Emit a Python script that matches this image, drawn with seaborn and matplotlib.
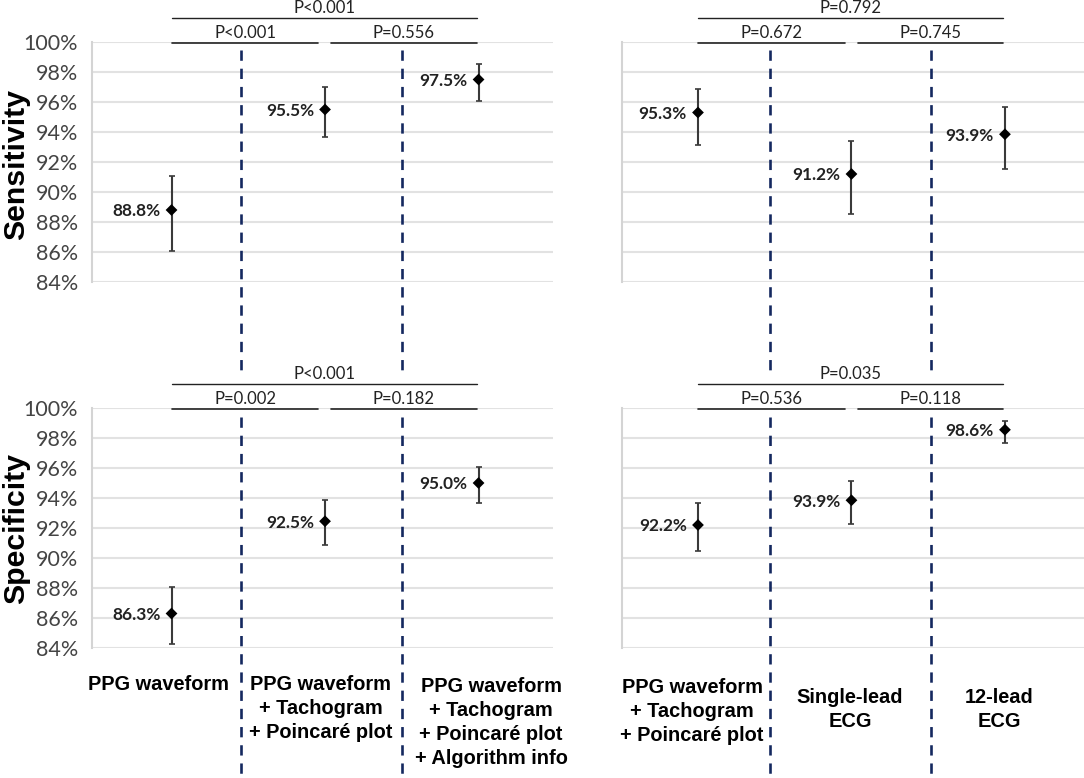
import matplotlib
matplotlib.use("Agg")
import matplotlib.pyplot as plt
from matplotlib.lines import Line2D
import numpy as np
import pandas as pd
import seaborn as sns

# ---- data ----
sens_left = [88.8, 95.5, 97.5]
sens_left_lo = [86.1, 93.65, 96.05]
sens_left_hi = [91.05, 97.0, 98.55]
sens_left_labels = ["88.8%", "95.5%", "97.5%"]

sens_right = [95.3, 91.2, 93.85]
sens_right_lo = [93.15, 88.55, 91.55]
sens_right_hi = [96.85, 93.4, 95.65]
sens_right_labels = ["95.3%", "91.2%", "93.9%"]

spec_left = [86.3, 92.45, 95.0]
spec_left_lo = [84.3, 90.85, 93.7]
spec_left_hi = [88.1, 93.85, 96.1]
spec_left_labels = ["86.3%", "92.5%", "95.0%"]

spec_right = [92.2, 93.85, 98.55]
spec_right_lo = [90.45, 92.25, 97.7]
spec_right_hi = [93.65, 95.15, 99.15]
spec_right_labels = ["92.2%", "93.9%", "98.6%"]

y_ticks = [84, 86, 88, 90, 92, 94, 96, 98, 100]

p_sens_left = ["P<0.001", "P=0.556", "P<0.001"]
p_sens_right = ["P=0.672", "P=0.745", "P=0.792"]
p_spec_left = ["P=0.002", "P=0.182", "P<0.001"]
p_spec_right = ["P=0.536", "P=0.118", "P=0.035"]

cats_left = ["PPG waveform",
             "PPG waveform\n+ Tachogram\n+ Poincaré plot",
             "PPG waveform\n+ Tachogram\n+ Poincaré plot\n+ Algorithm info"]
cats_right = ["PPG waveform\n+ Tachogram\n+ Poincaré plot",
              "Single-lead\nECG",
              "12-lead\nECG"]

W, H = 1084, 778
sns.set_theme(style="white")
plt.rcParams["font.family"] = ["Lato", "DejaVu Sans"]

fig = plt.figure(figsize=(W / 100, H / 100), dpi=100, facecolor="white")


def make_axes(left, top, width, height=240):
    return fig.add_axes([left / W, 1 - (top + height) / H, width / W, height / H])


def fx(px):
    return px / W


def fy(py):
    return 1 - py / H


def panel(ax, vals, lo, hi, labels, show_ticks, xlim):
    df = pd.DataFrame({"x": [0, 1, 2], "y": vals})
    ax.set_xlim(*xlim)
    ax.set_ylim(84, 100)
    ax.set_yticks(y_ticks)
    ax.set_xticks([])
    ax.grid(axis="y", color="#e2e2e2", lw=1.5)
    ax.set_axisbelow(True)
    if show_ticks:
        ax.set_yticklabels([f"{t}%" for t in y_ticks], fontsize=15.5, color="#444444")
    else:
        ax.set_yticklabels([])
    ax.tick_params(axis="y", length=0, pad=10)
    for s in ["top", "right", "bottom"]:
        ax.spines[s].set_visible(False)
    ax.spines["left"].set_color("#d4d4d4")
    ax.spines["left"].set_linewidth(1.5)
    err = [np.array(vals) - np.array(lo), np.array(hi) - np.array(vals)]
    ax.errorbar(df["x"], df["y"], yerr=err, fmt="none", ecolor="#3a3a3a",
                elinewidth=1.5, capsize=2.2, capthick=1.2, clip_on=False, zorder=3)
    sns.scatterplot(data=df, x="x", y="y", marker="D", color="black", s=36,
                    edgecolor="none", ax=ax, zorder=4, clip_on=False)
    ax.set_xlabel("")
    ax.set_ylabel("")
    for x, v, t in zip(df["x"], vals, labels):
        ax.annotate(t, (x, v), xytext=(-8, -1), textcoords="offset points",
                    ha="right", va="center", fontsize=12.4, fontweight="bold",
                    color="#222222")


def brackets(x0, x1, x2, x3, y_top, y_mid, texts):
    # two short p-value lines and the long one above them
    for a, b, yy, t, lw in [(x0, x1, y_mid, texts[0], 1.2),
                            (x2, x3, y_mid, texts[1], 1.2),
                            (x0, x3, y_top, texts[2], 1.0)]:
        fig.add_artist(Line2D([fx(a), fx(b)], [fy(yy), fy(yy)], color="#222222", lw=lw))
        fig.text(fx((a + b) / 2), fy(yy - 2), t, ha="center", va="bottom",
                 fontsize=12, color="#222222")


def vline(px, top, bottom):
    fig.add_artist(Line2D([fx(px), fx(px)], [fy(top), fy(bottom)], color="#14285f",
                          lw=1.9, dashes=(3.9, 3.0)))


left_xlim = (-0.518, 2.485)
right_xlim = (-0.495, 2.515)

ax_a = make_axes(92, 42, 461)
panel(ax_a, sens_left, sens_left_lo, sens_left_hi, sens_left_labels, True, left_xlim)
ax_b = make_axes(622, 42, 462)
panel(ax_b, sens_right, sens_right_lo, sens_right_hi, sens_right_labels, False, right_xlim)
ax_c = make_axes(92, 408, 461)
panel(ax_c, spec_left, spec_left_lo, spec_left_hi, spec_left_labels, True, left_xlim)
ax_d = make_axes(622, 408, 462)
panel(ax_d, spec_right, spec_right_lo, spec_right_hi, spec_right_labels, False, right_xlim)

brackets(172, 318, 331, 477, 18, 42.5, p_sens_left)
brackets(698, 845, 858, 1003, 18, 42.5, p_sens_right)
brackets(172, 318, 331, 477, 384, 408.5, p_spec_left)
brackets(698, 845, 858, 1003, 384, 408.5, p_spec_right)

for px in [241, 402, 770, 931]:
    vline(px, 50, 370)
    vline(px, 417, 778)

for py, t in [(164, "Sensitivity"), (529, "Specificity")]:
    fig.text(fx(16), fy(py), t, rotation=90, ha="center", va="center",
             fontsize=21.8, fontweight="bold", color="black", family="Liberation Sans")

for px, py, t in zip([159, 321, 491], [675, 675, 677], cats_left):
    fig.text(fx(px), fy(py), t, ha="center", va="top", fontsize=14.4, fontweight="bold",
             color="black", family="Liberation Sans", linespacing=1.33)
for px, py, t in zip([692, 850, 999], [678, 688, 688], cats_right):
    fig.text(fx(px), fy(py), t, ha="center", va="top", fontsize=14.4, fontweight="bold",
             color="black", family="Liberation Sans", linespacing=1.33)

fig.savefig("out.png", dpi=100, facecolor="white")
